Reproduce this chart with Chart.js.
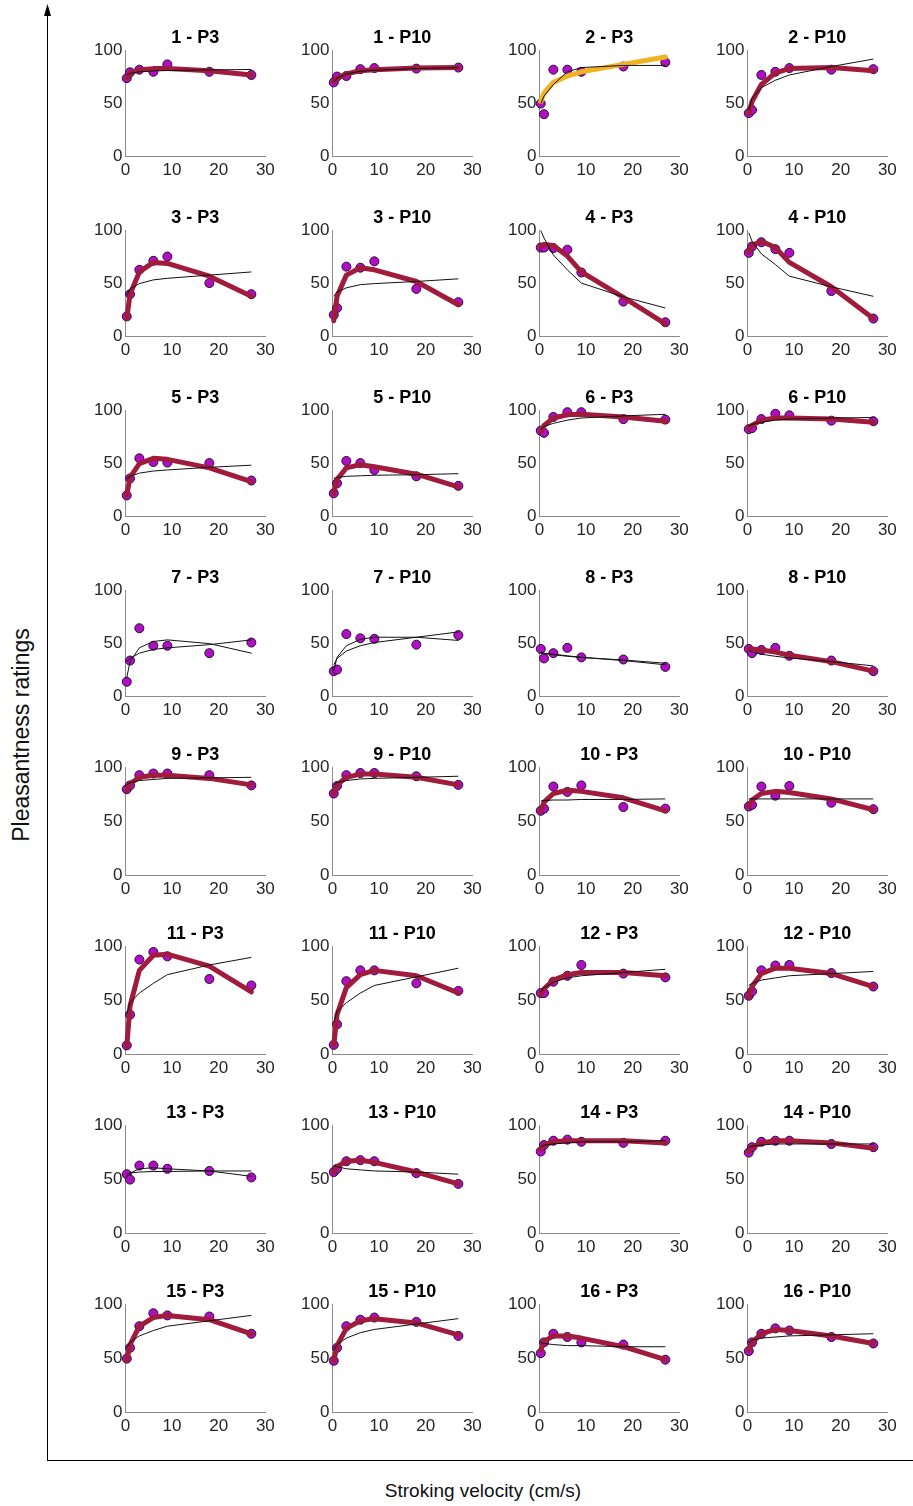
<!DOCTYPE html>
<html>
<head>
<meta charset="utf-8">
<script src="https://cdn.jsdelivr.net/npm/chart.js@4.4.1/dist/chart.umd.min.js"></script>
<style>
  html, body { margin: 0; padding: 0; background: #fff; }
  body { width: 913px; height: 1506px; position: relative; overflow: hidden;
         font-family: "Liberation Sans", Arial, Helvetica, sans-serif; }
  .panel { position: absolute; }
  .axis-label { position: absolute; color: #111; white-space: nowrap; }
</style>
</head>
<body>
<svg width="913" height="1506" style="position:absolute;left:0;top:0">
  <line x1="47.5" y1="1460.5" x2="47.5" y2="14" stroke="#000" stroke-width="1"/>
  <polygon points="47.5,4 44,16 51,16" fill="#000"/>
  <line x1="47" y1="1460.5" x2="913" y2="1460.5" stroke="#000" stroke-width="1"/>
</svg>
<div class="axis-label" id="ylab" style="left:21px;top:735px;font-size:23px;transform:translate(-50%,-50%) rotate(-90deg)">Pleasantness ratings</div>
<div class="axis-label" id="xlab" style="left:483px;top:1491px;font-size:19px;transform:translate(-50%,-50%)">Stroking velocity (cm/s)</div>

<script>
// stroking velocities (cm/s), same for every panel
const velocities = [0.3, 1, 3, 6, 9, 18, 27];

const participants = [1, 2, 3, 4, 5, 6, 7, 8, 9, 10, 11, 12, 13, 14, 15, 16];
const conditions = ['P3', 'P10'];

// mean ratings per panel (dots)
const ratings = [
    [74, 79.5, 82, 80, 87, 80, 77],        // 1 - P3
    [70, 75.5, 76, 82.5, 83.5, 83, 84],    // 1 - P10
    [50, 40, 82, 82, 80, 85, 89],          // 2 - P3
    [41, 44, 77, 80, 83.5, 82, 82.5],      // 2 - P10
    [19, 40, 63, 71.5, 75.5, 50.5, 40],    // 3 - P3
    [20.5, 27, 66, 65, 71, 45, 32.5],      // 3 - P10
    [84, 84, 83.5, 82, 60.5, 33, 13.5],    // 4 - P3
    [79, 85, 89, 82.5, 79, 43, 17],        // 4 - P10
    [20, 36, 55, 51.5, 51, 50.5, 34],      // 5 - P3
    [22, 31.5, 52.5, 50.5, 44, 38, 29],    // 5 - P10
    [81, 79, 94, 98.5, 98.5, 92, 91.5],    // 6 - P3
    [82.5, 83.5, 92, 97, 95.5, 90.5, 90],  // 6 - P10
    [14, 34, 64.5, 48, 48, 41, 51],        // 7 - P3
    [24, 25.5, 59, 55, 54.5, 49, 58],      // 7 - P10
    [45, 36, 41, 46, 37, 35, 28],          // 8 - P3
    [45, 41, 44, 46, 38.5, 34, 24],        // 8 - P10
    [80, 83.5, 93, 94.5, 94.5, 93, 83.5],  // 9 - P3
    [76, 83, 93, 95, 95, 92, 84],          // 9 - P10
    [60, 62, 82.5, 77.5, 83.5, 63.5, 62],  // 10 - P3
    [64, 65.5, 82.5, 74, 83, 67.5, 61.5],  // 10 - P10
    [8.5, 37, 88, 95, 91, 70, 64],         // 11 - P3
    [9, 28, 68, 78, 78, 66, 59],           // 11 - P10
    [57, 57, 67.5, 73, 83, 75, 71.5],      // 12 - P3
    [54.5, 58.5, 78, 82.5, 83, 75.5, 63],  // 12 - P10
    [55, 50, 63, 63, 60, 58, 52],          // 13 - P3
    [57, 60, 67, 68, 67, 56, 46],          // 13 - P10
    [76, 82, 86, 87, 85, 84, 86],          // 14 - P3
    [75, 80, 85, 86, 86, 83, 80],          // 14 - P10
    [50, 60, 80, 92, 90, 89, 73],          // 15 - P3
    [48, 60, 80, 86, 88, 84, 71],          // 15 - P10
    [55, 65, 73, 70, 65, 63, 49],          // 16 - P3
    [57, 65, 73, 78, 76, 70, 64]           // 16 - P10
];

// thin black fit
const linearFit = [
    [77, 78.5, 80, 80.8, 81.2, 81.8, 82.2],
    [70, 74, 78, 80.5, 81.5, 83, 84],
    [50, 57, 68, 80, 84, 86, 86],
    [44, 55, 65, 72, 77, 85, 92],
    [39, 45, 50, 53.5, 55, 58, 61],
    [38, 42, 46, 49, 50, 52, 54.5],
    [100, 93, 77, 63, 50.5, 37.5, 27],
    [98, 90, 78, 68, 57, 47, 38],
    [36, 38, 41, 43, 44, 46.5, 48.5],
    [36, 37, 38, 38.5, 39, 39.5, 40.5],
    [82, 85, 88, 91, 93, 95, 96.5],
    [85, 87, 89, 91, 92, 93, 93.5],
    [33, 36, 41, 44.5, 46, 49, 53.5],
    [30, 36, 43, 48, 51, 56, 61],
    [41, 40.5, 39.5, 38, 37, 34.5, 31.5],
    [44, 42, 40, 38, 36.5, 33, 29],
    [84, 86, 88, 89, 90, 90.5, 91],
    [84, 86, 88, 89.5, 90, 91, 92],
    [69, 69.5, 70, 70, 70.5, 70.5, 71],
    [71, 71, 71, 71, 71, 71, 71],
    [38, 48, 57, 66, 74, 83, 90],
    [30, 40, 48, 57, 64, 72, 80],
    [58, 62, 67, 71, 73, 76, 79],
    [64, 66, 69, 71, 73, 75, 77],
    [55, 56, 57, 57.5, 57.5, 58, 58],
    [63, 62, 60, 59, 58, 57, 55],
    [80, 82, 83, 84, 85, 85, 86],
    [80, 81, 82, 83, 83, 83, 83],
    [60, 65, 71, 76, 80, 85, 90],
    [58, 63, 69, 74, 77, 82, 87],
    [65, 64, 63, 62, 62, 61, 61],
    [65, 67, 69, 70, 71, 72, 73]
];

// curved fit (thick line)
const curveFit = [
    [74, 79, 82, 83, 83, 81, 77],
    [71, 74, 78, 81, 82, 83.5, 84],
    [52, 60, 70, 76, 80, 87, 94],
    [41, 52, 68, 79, 83, 84, 81],
    [17, 40, 61, 70, 69, 57, 38],
    [15, 38, 58, 65, 63, 52, 30],
    [85, 87, 86, 76, 61, 37, 12],
    [80, 86, 90, 84, 70, 47, 17],
    [20, 37, 50, 55, 54, 46, 33],
    [22, 35, 46, 49, 47, 40, 28],
    [80, 86, 93, 96, 96.5, 94, 90],
    [83, 86, 91, 93, 93, 92, 89],
    [18, 33, 46, 52, 53.5, 50, 41],
    [24, 37, 48, 54, 56, 56, 53],
    [42, 41, 40, 38.5, 37, 34, 30],
    [45, 45, 44, 42, 39, 33, 24],
    [79, 85, 91, 93, 93, 90, 84],
    [76, 84, 91, 94, 94, 91, 84],
    [60, 68, 76, 79, 78, 72, 60],
    [64, 70, 76, 78, 77, 71, 61],
    [8, 45, 78, 92, 93, 82, 58],
    [9, 37, 62, 74, 78, 73, 57],
    [56, 61, 69, 74, 76, 76, 73],
    [53, 63, 75, 80, 80, 75, 63],
    [52, 56, 60, 61, 60, 58, 53],
    [57, 62, 67, 68, 66, 57, 46],
    [78, 82, 85, 86, 86, 86, 84],
    [76, 80, 84, 86, 86, 84, 79],
    [48, 63, 80, 88, 90, 86, 73],
    [48, 62, 78, 85, 87, 83, 72],
    [58, 66, 71, 71, 69, 61, 49],
    [58, 65, 73, 77, 76, 71, 64]
];

// how the curved fit is drawn: red, orange or thin (black)
const curveStyle = [
    'red', 'red', 'orange', 'red', 'red', 'red', 'red', 'red',
    'red', 'red', 'red', 'red', 'thin', 'thin', 'thin', 'red',
    'red', 'red', 'red', 'red', 'red', 'red', 'red', 'red',
    'thin', 'red', 'red', 'red', 'red', 'red', 'red', 'red'
];

const xTicks = [0, 10, 20, 30];
const yTicks = [0, 50, 100];

const titles = participants.flatMap(p => conditions.map(c => p + ' - ' + c));

// placement of each plot area on the page
const colLeft = [125, 332, 539, 747];
const rowTop = [51, 231, 411, 591, 768, 947, 1126, 1305];
const rowHeight = [106, 106, 106, 106, 108, 108, 108, 108];
const plotWidth = 140;

const FONT = '"Liberation Sans", Arial, Helvetica, sans-serif';
const curveColors = { red: '#a11b3d', orange: '#f0b323', thin: '#111111' };

function toPoints(values) {
    return velocities.map((v, i) => ({ x: v, y: values[i] }));
}

function makePanel(i) {
    const row = Math.floor(i / 4);
    const col = i % 4;
    const box = document.createElement('div');
    box.className = 'panel';
    box.style.width = '200px';
    box.style.height = '160px';
    const canvas = document.createElement('canvas');
    box.appendChild(canvas);
    document.body.appendChild(box);

    const style = curveStyle[i];
    const chart = new Chart(canvas, {
        type: 'scatter',
        data: {
            datasets: [
                {
                    type: 'line',
                    data: toPoints(linearFit[i]),
                    borderColor: '#111',
                    borderWidth: 1,
                    pointRadius: 0,
                    tension: 0,
                    clip: false,
                    order: 0
                },
                {
                    type: 'line',
                    data: toPoints(curveFit[i]),
                    borderColor: curveColors[style],
                    borderWidth: style === 'thin' ? 1 : 5,
                    borderJoinStyle: 'round',
                    borderCapStyle: 'round',
                    pointRadius: 0,
                    tension: 0,
                    clip: false,
                    order: 1
                },
                {
                    data: toPoints(ratings[i]),
                    backgroundColor: '#b10fc6',
                    borderColor: '#2b0a33',
                    borderWidth: 1,
                    pointRadius: 4.5,
                    showLine: false,
                    clip: false,
                    order: 2
                }
            ]
        },
        options: {
            responsive: true,
            maintainAspectRatio: false,
            animation: false,
            events: [],
            plugins: {
                legend: { display: false },
                tooltip: { enabled: false },
                title: {
                    display: true,
                    text: titles[i],
                    color: '#000',
                    fullSize: false,
                    font: { family: FONT, size: 18, weight: 'bold' },
                    padding: { top: 0, bottom: 2 }
                }
            },
            scales: {
                x: {
                    type: 'linear',
                    min: 0,
                    max: 30,
                    afterBuildTicks: s => { s.ticks = xTicks.map(v => ({ value: v })); },
                    ticks: { color: '#262626', padding: 4, font: { family: FONT, size: 17 } },
                    grid: { display: false, drawTicks: false },
                    border: { display: true, color: '#8c8c8c', width: 1 }
                },
                y: {
                    type: 'linear',
                    min: 0,
                    max: 100,
                    afterBuildTicks: s => { s.ticks = yTicks.map(v => ({ value: v })); },
                    ticks: { color: '#262626', padding: 3, font: { family: FONT, size: 17 } },
                    grid: { display: false, drawTicks: false },
                    border: { display: true, color: '#8c8c8c', width: 1 }
                }
            }
        }
    });

    // fit the plot area to the target rectangle, then move the box there
    let ca = chart.chartArea;
    const w = 200 + (plotWidth - (ca.right - ca.left));
    const h = 160 + (rowHeight[row] - (ca.bottom - ca.top));
    box.style.width = w + 'px';
    box.style.height = h + 'px';
    chart.resize();
    ca = chart.chartArea;
    box.style.left = (colLeft[col] - ca.left) + 'px';
    box.style.top = (rowTop[row] - ca.top) + 'px';
}

for (let i = 0; i < titles.length; i++) {
    makePanel(i);
}
</script>
</body>
</html>
